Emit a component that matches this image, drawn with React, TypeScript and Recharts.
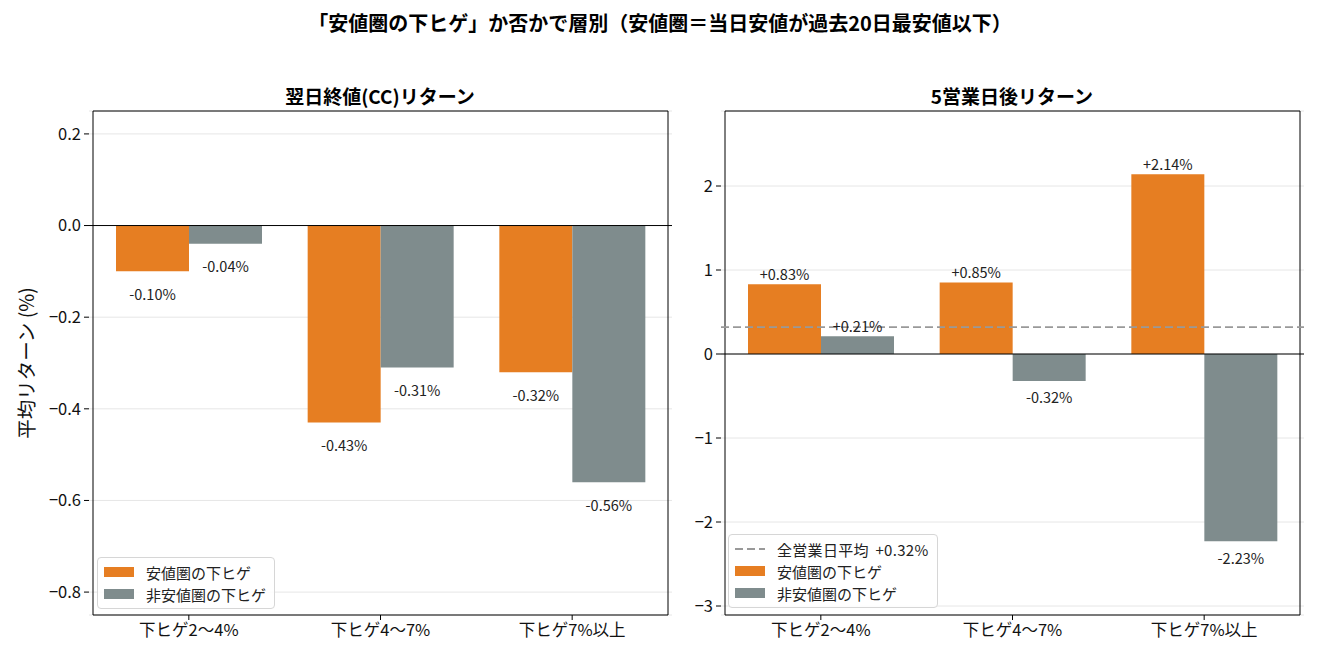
import React from 'react';
import {
  BarChart,
  Bar,
  XAxis,
  YAxis,
  CartesianGrid,
  ReferenceLine,
  ReferenceArea,
  LabelList,
  Legend,
} from 'recharts';

// ---- data ----
const categories = ['下ヒゲ2〜4%', '下ヒゲ4〜7%', '下ヒゲ7%以上'];
const nextDayLowZone = [-0.1, -0.43, -0.32];
const nextDayOther = [-0.04, -0.31, -0.56];
const fiveDayLowZone = [0.83, 0.85, 2.14];
const fiveDayOther = [0.21, -0.32, -2.23];
const allDayMean5 = 0.32;
const leftTicks = [0.2, 0.0, -0.2, -0.4, -0.6, -0.8];
const rightTicks = [2, 1, 0, -1, -2, -3];
const seriesNames = ['安値圏の下ヒゲ', '非安値圏の下ヒゲ'];
const meanLabel = '全営業日平均 +0.32%';
const suptitle = '「安値圏の下ヒゲ」か否かで層別（安値圏＝当日安値が過去20日最安値以下）';
const leftTitle = '翌日終値(CC)リターン';
const rightTitle = '5営業日後リターン';
const yLabel = '平均リターン (%)';

const leftData = categories.map((c, i) => ({ cat: c, low: nextDayLowZone[i], other: nextDayOther[i] }));
const rightData = categories.map((c, i) => ({ cat: c, low: fiveDayLowZone[i], other: fiveDayOther[i] }));

// ---- styles ----
const FONT = '"Noto Sans CJK JP", "Noto Sans", sans-serif';
const ORANGE = '#E67E22';
const GRAY = '#7F8C8D';
const LEFT_DOMAIN: [number, number] = [-0.85, 0.25];
const RIGHT_DOMAIN: [number, number] = [-3.107, 2.893];

const minusFmt = (s: string) => s.replace('-', '\u2212');
const fmtLeftTick = (v: number) => minusFmt(v.toFixed(1));
const fmtRightTick = (v: number) => minusFmt(String(v));
const fmtValue = (v: number) => (v > 0 ? `+${v.toFixed(2)}%` : `${v.toFixed(2)}%`);

const makeLabel = (negOffset: number, posOffset: number) => (props: any) => {
  const vb = props.viewBox && props.viewBox.width !== undefined ? props.viewBox : props;
  const x = Number(vb.x);
  const y = Number(vb.y);
  const w = Number(vb.width);
  const h = Number(vb.height);
  const v = Number(props.value);
  const top = Math.min(y, y + h);
  const bot = Math.max(y, y + h);
  const ty = v >= 0 ? top - posOffset : bot + negOffset;
  return (
    <text
      x={x + w / 2}
      y={ty}
      textAnchor="middle"
      dominantBaseline="central"
      fontSize={14.5}
      fill="#222"
      fontFamily={FONT}
    >
      {fmtValue(v)}
    </text>
  );
};

type LegendItem = { label: string; color: string; kind: 'rect' | 'dash' };

const LegendBox = ({ items }: { items: LegendItem[] }) => (
  <div
    style={{
      border: '1px solid #d6d6d6',
      borderRadius: 4,
      background: 'rgba(255,255,255,0.85)',
      padding: '3px 8px 3px 6px',
      fontFamily: FONT,
      fontSize: 15,
      color: '#222',
      whiteSpace: 'nowrap',
    }}
  >
    {items.map((it) => (
      <div key={it.label} style={{ display: 'flex', alignItems: 'center', height: 22 }}>
        {it.kind === 'dash' ? (
          <svg width={30} height={10} style={{ display: 'block' }}>
            <line x1={0} y1={5} x2={30} y2={5} stroke={it.color} strokeWidth={1.8} strokeDasharray="8 4" />
          </svg>
        ) : (
          <div style={{ width: 30, height: 10, background: it.color }} />
        )}
        <span style={{ marginLeft: 12, wordSpacing: 3, letterSpacing: it.kind === 'dash' ? 0.3 : 0 }}>{it.label}</span>
      </div>
    ))}
  </div>
);

const leftLegend: LegendItem[] = [
  { label: seriesNames[0], color: ORANGE, kind: 'rect' },
  { label: seriesNames[1], color: GRAY, kind: 'rect' },
];
const rightLegend: LegendItem[] = [
  { label: meanLabel, color: '#999999', kind: 'dash' },
  { label: seriesNames[0], color: ORANGE, kind: 'rect' },
  { label: seriesNames[1], color: GRAY, kind: 'rect' },
];

const tickStyle = { fontSize: 16.5, fill: '#111', fontFamily: FONT };
const xPad = { left: 4, right: 4 };

export default function App() {
  return (
    <div style={{ position: 'absolute', left: 0, top: 0, width: 1320, height: 660, background: '#fff', fontFamily: FONT }}>
      {/* Left panel */}
      <div style={{ position: 'absolute', left: 0, top: 0 }}>
        <BarChart
          width={700}
          height={660}
          data={leftData}
          margin={{ top: 111, right: 28, bottom: 5, left: 29 }}
          barCategoryGap="12%"
          barGap={0}
        >
          <CartesianGrid vertical={false} stroke="#e6e6e6" />
          <XAxis
            dataKey="cat"
            height={40}
            axisLine={false}
            tickLine={{ stroke: '#000' }}
            tickSize={5}
            tickMargin={4}
            tick={tickStyle}
            interval={0}
            padding={xPad}
          />
          <YAxis
            width={60}
            domain={LEFT_DOMAIN}
            ticks={leftTicks}
            tickFormatter={fmtLeftTick}
            axisLine={false}
            tickLine={{ stroke: '#000' }}
            tickSize={5}
            tickMargin={3}
            tick={tickStyle}
            allowDataOverflow
          />
          <ReferenceLine y={0} stroke="#000" strokeWidth={1} />
          <Bar dataKey="low" name={seriesNames[0]} fill={ORANGE} isAnimationActive={false}>
            <LabelList dataKey="low" content={makeLabel(22, 11)} />
          </Bar>
          <Bar dataKey="other" name={seriesNames[1]} fill={GRAY} isAnimationActive={false}>
            <LabelList dataKey="other" content={makeLabel(22, 11)} />
          </Bar>
          <ReferenceArea y1={LEFT_DOMAIN[0]} y2={LEFT_DOMAIN[1]} fill="none" stroke="#000" strokeWidth={1} ifOverflow="visible" />
          <Legend
            layout="horizontal"
            verticalAlign="middle"
            align="center"
            wrapperStyle={{ left: 97, top: 557, width: 'auto' }}
            content={() => <LegendBox items={leftLegend} />}
          />
        </BarChart>
      </div>

      {/* Right panel */}
      <div style={{ position: 'absolute', left: 660, top: 0 }}>
        <BarChart
          width={660}
          height={660}
          data={rightData}
          margin={{ top: 111, right: 16, bottom: 5, left: 21 }}
          barCategoryGap="12%"
          barGap={0}
        >
          <CartesianGrid vertical={false} stroke="#e6e6e6" />
          <XAxis
            dataKey="cat"
            height={40}
            axisLine={false}
            tickLine={{ stroke: '#000' }}
            tickSize={5}
            tickMargin={4}
            tick={tickStyle}
            interval={0}
            padding={xPad}
          />
          <YAxis
            width={40}
            domain={RIGHT_DOMAIN}
            ticks={rightTicks}
            tickFormatter={fmtRightTick}
            axisLine={false}
            tickLine={{ stroke: '#000' }}
            tickSize={5}
            tickMargin={3}
            tick={tickStyle}
            allowDataOverflow
          />
          <ReferenceLine y={0} stroke="#000" strokeWidth={1} />
          <ReferenceLine y={allDayMean5} stroke="#999999" strokeWidth={1.8} strokeDasharray="8 4" />
          <Bar dataKey="low" name={seriesNames[0]} fill={ORANGE} isAnimationActive={false}>
            <LabelList dataKey="low" content={makeLabel(16, 11)} />
          </Bar>
          <Bar dataKey="other" name={seriesNames[1]} fill={GRAY} isAnimationActive={false}>
            <LabelList dataKey="other" content={makeLabel(16, 11)} />
          </Bar>
          <ReferenceArea y1={RIGHT_DOMAIN[0]} y2={RIGHT_DOMAIN[1]} fill="none" stroke="#000" strokeWidth={1} ifOverflow="visible" />
          <Legend
            layout="horizontal"
            verticalAlign="middle"
            align="center"
            wrapperStyle={{ left: 68, top: 534, width: 'auto' }}
            content={() => <LegendBox items={rightLegend} />}
          />
        </BarChart>
      </div>

      {/* Titles */}
      <svg width={1320} height={660} style={{ position: 'absolute', left: 0, top: 0, pointerEvents: 'none' }}>
        <text x={660} y={22} textAnchor="middle" dominantBaseline="central" fontSize={20} fontWeight="bold" fill="#000" fontFamily={FONT}>
          {suptitle}
        </text>
        <text x={380} y={95} textAnchor="middle" dominantBaseline="central" fontSize={19} fontWeight="bold" fill="#000" fontFamily={FONT}>
          {leftTitle}
        </text>
        <text x={1012} y={95} textAnchor="middle" dominantBaseline="central" fontSize={19} fontWeight="bold" fill="#000" fontFamily={FONT}>
          {rightTitle}
        </text>
        <text
          x={25}
          y={363}
          textAnchor="middle"
          dominantBaseline="central"
          fontSize={19.5}
          fill="#111"
          fontFamily={FONT}
          transform="rotate(-90 25 363)"
        >
          {yLabel}
        </text>
      </svg>
    </div>
  );
}
